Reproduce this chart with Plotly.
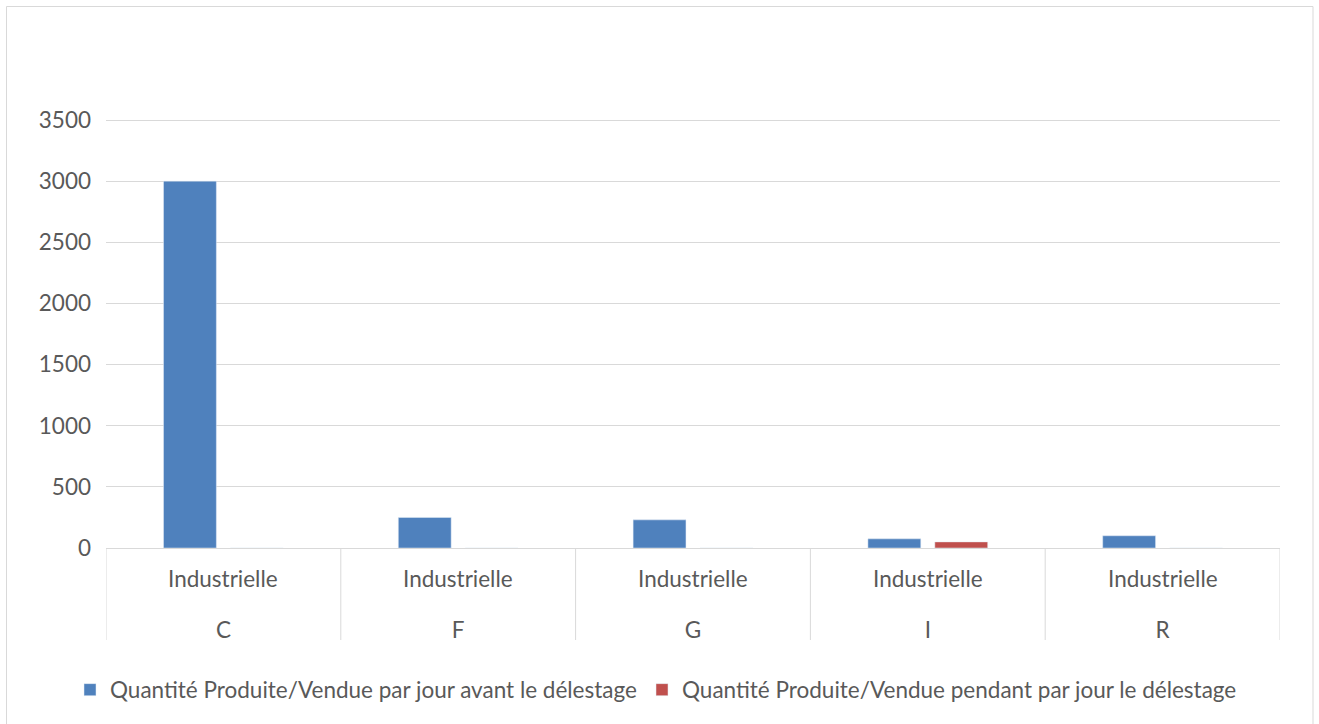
import plotly.graph_objects as go

# Data
sites = ["C", "F", "G", "I", "R"]
secteur = ["Industrielle", "Industrielle", "Industrielle", "Industrielle", "Industrielle"]
avant = [3000, 250, 230, 75, 100]
pendant = [0, 0, 0, 50, 0]
y_ticks = [0, 500, 1000, 1500, 2000, 2500, 3000, 3500]

name_avant = "Quantité Produite/Vendue par jour avant le délestage"
name_pendant = "Quantité Produite/Vendue pendant par jour le délestage"

W, H = 1319, 724
ML, MR, MT, MB = 106, 39, 117, 176
FONT = "Lato"
FS = 22.5
GRAY = "#595959"
GRID = "#D9D9D9"

pw = W - ML - MR
ph = H - MT - MB
# value scale: 3500 sits 428 px above the baseline; a little headroom keeps the top gridline visible
y_top = 3500 * ph / 428


def py(pix):
    """Pixel row (from top of page) to paper y."""
    return (ph - (pix - MT)) / ph


def px(pix):
    """Pixel column to paper x."""
    return (pix - ML) / pw


fig = go.Figure()
fig.add_trace(go.Bar(x=sites, y=avant, name=name_avant, marker_color="#4F81BD"))
fig.add_trace(go.Bar(x=sites, y=pendant, name=name_pendant, marker_color="#C0504D"))

# inner category level (sector) as annotations under each site
annotations = [
    dict(x=s, y=py(578), xref="x", yref="paper", text=sec, showarrow=False,
         xanchor="center", yanchor="middle",
         font=dict(family=FONT, size=FS, color=GRAY))
    for s, sec in zip(sites, secteur)
]

# vertical dividers between categories on the axis band
shapes = [
    dict(type="line", xref="x", yref="paper", x0=i - 0.5, x1=i - 0.5,
         y0=py(640), y1=0, line=dict(color=GRID, width=1))
    for i in range(len(sites) + 1)
]
# outer chart border
shapes.append(dict(type="rect", xref="paper", yref="paper",
                   x0=px(6.5), x1=px(1313), y0=py(730), y1=py(6.5),
                   line=dict(color=GRID, width=1), layer="below"))

fig.update_layout(
    width=W, height=H,
    margin=dict(l=ML, r=MR, t=MT, b=MB),
    paper_bgcolor="white", plot_bgcolor="white",
    barmode="group", bargap=0.43, bargroupgap=0.21,
    font=dict(family=FONT, size=FS, color=GRAY),
    showlegend=True,
    legend=dict(orientation="h", x=px(656), xanchor="center",
                y=py(690), yanchor="middle",
                font=dict(family=FONT, size=FS, color=GRAY),
                itemwidth=30, traceorder="normal"),
    xaxis=dict(type="category", showgrid=False, showline=False, zeroline=False,
               ticks="", ticklabelstandoff=66, range=[-0.5, len(sites) - 0.5],
               tickfont=dict(family=FONT, size=FS, color=GRAY)),
    yaxis=dict(range=[0, y_top], tickvals=y_ticks,
               showgrid=True, gridcolor=GRID,
               gridwidth=1, zeroline=True, zerolinecolor=GRID, zerolinewidth=1,
               showline=False, ticks="", ticklabelstandoff=14,
               tickfont=dict(family=FONT, size=FS, color=GRAY)),
    annotations=annotations,
    shapes=shapes,
)

fig.write_html("out.html")
